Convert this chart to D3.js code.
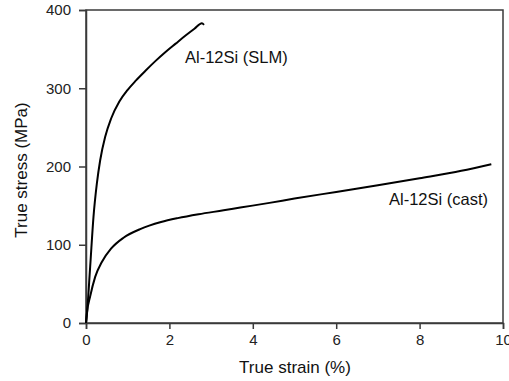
<!DOCTYPE html>
<html><head><meta charset="utf-8">
<script src="https://cdn.jsdelivr.net/npm/d3@7/dist/d3.min.js"></script>
<style>
html,body{margin:0;padding:0;background:#fff;}
svg{display:block;font-family:"Liberation Sans",Arial,sans-serif;}
</style></head>
<body>
<svg id="chart" width="509" height="381"></svg>
<script>
// SLM curve: true strain (%)
const slmStrain = [0, 0.02, 0.1, 0.18, 0.26, 0.34, 0.46, 0.6, 0.8, 1.0, 1.2, 1.42, 1.65, 1.9, 2.15, 2.38, 2.6, 2.78, 2.83];
// SLM curve: true stress (MPa)
const slmStress = [0, 10, 72, 136, 178, 208, 238, 261, 283, 298, 310, 322, 334, 346, 357, 367, 376, 383, 381];
// Cast curve: true strain (%)
const castStrain = [0, 0.02, 0.1, 0.22, 0.38, 0.6, 0.9, 1.3, 1.8, 2.2, 2.7, 3.3, 3.7, 4.4, 5.0, 6.0, 7.0, 8.0, 9.0, 9.72];
// Cast curve: true stress (MPa)
const castStress = [0, 12, 34, 59, 78, 95, 109, 120, 129, 134, 139, 144, 147.5, 153.5, 159, 167.5, 176, 185, 194.5, 203];
const xTicks = [0, 2, 4, 6, 8, 10];
const yTicks = [0, 100, 200, 300, 400];
const seriesLabels = ["Al-12Si (SLM)", "Al-12Si (cast)"];
const xTitle = "True strain (%)";
const yTitle = "True stress (MPa)";

const svg = d3.select("#chart");
const L = 86, R = 503, T = 10, B = 323;
const x = d3.scaleLinear().domain([0, 10]).range([L, R]);
const y = d3.scaleLinear().domain([0, 400]).range([B, T]);
const axisColor = "#3a3a3a";

// frame
svg.append("rect").attr("x", L).attr("y", T).attr("width", R - L).attr("height", B - T)
  .attr("fill", "none").attr("stroke", axisColor).attr("stroke-width", 1.5);

const xAxis = svg.append("g").attr("transform", `translate(0,${B})`)
  .call(d3.axisBottom(x).tickValues(xTicks).tickSize(6).tickPadding(5).tickFormat(d3.format("d")));
const yAxis = svg.append("g").attr("transform", `translate(${L},0)`)
  .call(d3.axisLeft(y).tickValues(yTicks).tickSize(7).tickPadding(8).tickFormat(d3.format("d")));
[xAxis, yAxis].forEach(g => {
  g.select(".domain").attr("stroke", axisColor).attr("stroke-width", 1.5);
  g.selectAll(".tick line").attr("stroke", axisColor).attr("stroke-width", 1.5);
  g.selectAll(".tick text").attr("fill", "#222").style("font-size", "15px")
    .style("font-family", '"Liberation Sans",Arial,sans-serif');
});

const line = d3.line().x(d => x(d[0])).y(d => y(d[1])).curve(d3.curveMonotoneX);
const slm = slmStrain.map((s, i) => [s, slmStress[i]]);
const cast = castStrain.map((s, i) => [s, castStress[i]]);
[slm, cast].forEach(data => {
  svg.append("path").datum(data).attr("d", line)
    .attr("fill", "none").attr("stroke", "#000").attr("stroke-width", 2);
});

svg.append("text").attr("x", 185).attr("y", 63).text(seriesLabels[0])
  .style("font-size", "16.5px").attr("fill", "#111");
svg.append("text").attr("x", 389).attr("y", 205).text(seriesLabels[1])
  .style("font-size", "16.5px").attr("fill", "#111");

svg.append("text").attr("x", 295).attr("y", 373).attr("text-anchor", "middle")
  .text(xTitle).style("font-size", "17px").attr("fill", "#111");
svg.append("text").attr("transform", "translate(27,170) rotate(-90)").attr("text-anchor", "middle")
  .text(yTitle).style("font-size", "17px").attr("fill", "#111");
</script>
</body></html>
